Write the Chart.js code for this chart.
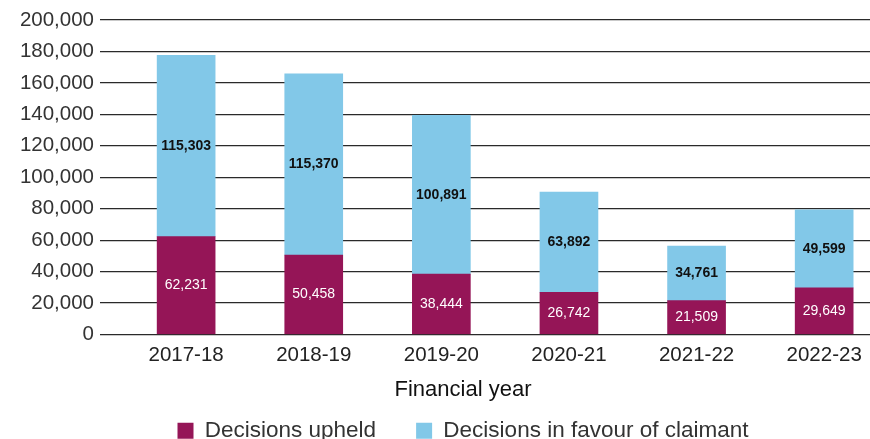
<!DOCTYPE html>
<html>
<head>
<meta charset="utf-8">
<script src="https://cdn.jsdelivr.net/npm/chart.js@4/dist/chart.umd.min.js"></script>
<style>
  html, body { margin: 0; padding: 0; background: #ffffff; }
  #wrap { width: 870px; height: 439px; overflow: hidden; position: relative; }
  #box { width: 926px; height: 452px; position: absolute; left: 0; top: 0; }
</style>
</head>
<body>
<div id="wrap"><div id="box"><canvas id="chart"></canvas></div></div>
<script>
// Financial years and decision counts
const years = ['2017-18', '2018-19', '2019-20', '2020-21', '2021-22', '2022-23'];
const decisionsUpheld = [62231, 50458, 38444, 26742, 21509, 29649];
const decisionsInFavour = [115303, 115370, 100891, 63892, 34761, 49599];
const yTicks = [0, 20000, 40000, 60000, 80000, 100000, 120000, 140000, 160000, 180000, 200000];

const FONT = '"Liberation Sans", Arial, Helvetica, sans-serif';
const MAGENTA = '#951557';
const SKY = '#82c8e8';

const toPoints = (arr) => arr.map((v, i) => ({ x: i, y: v }));
const fmt = (v) => v.toLocaleString('en-US');

// Writes each segment's value in the middle of its bar
const segmentLabels = {
  id: 'segmentLabels',
  afterDatasetsDraw(chart) {
    const ctx = chart.ctx;
    ctx.save();
    ctx.textAlign = 'center';
    ctx.textBaseline = 'middle';
    chart.data.datasets.forEach((ds, di) => {
      const meta = chart.getDatasetMeta(di);
      if (meta.hidden) return;
      meta.data.forEach((bar, i) => {
        const v = ds.data[i].y;
        const cy = (bar.y + bar.base) / 2;
        if (di === 0) {
          ctx.fillStyle = '#ffffff';
          ctx.font = '14px ' + FONT;
        } else {
          ctx.fillStyle = '#111111';
          ctx.font = 'bold 14px ' + FONT;
        }
        ctx.fillText(fmt(v), bar.x, cy);
      });
    });
    ctx.restore();
  }
};

new Chart(document.getElementById('chart'), {
  type: 'bar',
  data: {
    datasets: [
      { label: 'Decisions upheld', data: toPoints(decisionsUpheld), backgroundColor: MAGENTA, barThickness: 58 },
      { label: 'Decisions in favour of claimant', data: toPoints(decisionsInFavour), backgroundColor: SKY, barThickness: 58 }
    ]
  },
  plugins: [segmentLabels],
  options: {
    responsive: true,
    maintainAspectRatio: false,
    animation: false,
    layout: { padding: { top: 20, right: 0, bottom: 0, left: 0 } },
    scales: {
      x: {
        type: 'linear',
        stacked: true,
        offset: false,
        min: -0.675,
        max: 5.798,
        grid: { display: false, drawTicks: false },
        border: { display: false },
        ticks: {
          stepSize: 1,
          includeBounds: false,
          autoSkip: false,
          maxRotation: 0,
          padding: 9,
          color: '#222222',
          font: { family: FONT, size: 20.5 },
          callback: (v) => (Number.isInteger(v) && years[v] !== undefined ? years[v] : '')
        }
      },
      y: {
        stacked: true,
        min: 0,
        max: 200000,
        afterFit: (scale) => { scale.width = 100; },
        afterBuildTicks: (scale) => { scale.ticks = yTicks.map((v) => ({ value: v })); },
        grid: { color: '#2a2a2a', lineWidth: 1.2, drawTicks: false },
        border: { display: false },
        ticks: {
          padding: 6,
          color: '#333333',
          font: { family: FONT, size: 20.5 },
          callback: (v) => fmt(v)
        }
      }
    },
    plugins: {
      title: {
        display: true,
        text: 'Financial year',
        position: 'bottom',
        weight: 500,
        color: '#111111',
        font: { family: FONT, size: 22, weight: 'normal' },
        padding: { top: 0, bottom: -24 }
      },
      legend: {
        position: 'bottom',
        weight: 1000,
        labels: {
          boxWidth: 16,
          boxHeight: 16,
          padding: 40,
          color: '#333333',
          font: { family: FONT, size: 22.5 }
        }
      },
      tooltip: { enabled: false }
    }
  }
});
</script>
</body>
</html>
